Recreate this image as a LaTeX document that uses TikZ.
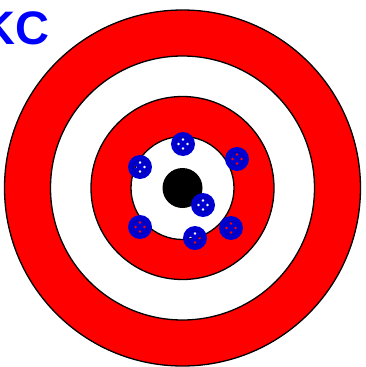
\documentclass[tikz,border=0pt]{standalone}
\usepackage{fontspec}
\setmainfont{Liberation Sans}
\usetikzlibrary{calc}
\definecolor{ringred}{RGB}{255,0,0}
\definecolor{holeblue}{RGB}{0,0,210}
\definecolor{holeedge}{RGB}{0,0,150}
\definecolor{textblue}{RGB}{0,0,255}
\tikzset{
  ring/.style={draw=black, line width=1.3pt},
  shot/.style={fill=holeblue, even odd rule},
  shotring/.style={draw=holeedge, line width=0.5pt},
}
\begin{document}
\begin{tikzpicture}[x=1pt,y=-1pt]
\useasboundingbox (0,0) rectangle (365,367);
\coordinate (c) at (182.5,188);
\fill[white] (0,0) rectangle (365,367);
\draw[ring, fill=ringred] (c) circle (178);
\draw[ring, fill=white] (c) circle (132);
\draw[ring, fill=ringred] (c) circle (91.5);
\draw[ring, fill=white] (c) circle (51.5);
\fill[black] (c) circle (20);
\node[anchor=base east, inner sep=0pt, text=textblue, font=\fontsize{47}{47}\selectfont\bfseries] (kc) at (50,44) {KC};
\foreach \n/\x/\y in {a/183/144, b/140/167, d/237/159, e/203/205, f/140/227, g/195/238, h/231/228}{
  \coordinate (\n) at (\x,\y);
  \fill[shot] (\n) circle (12)
    ($(\n)+(0,-4.5)$) circle (1.7)
    ($(\n)+(0,4.5)$) circle (1.7)
    ($(\n)+(-4.5,0)$) circle (1.7)
    ($(\n)+(4.5,0)$) circle (1.7);
  \draw[shotring] (\n) circle (7);
}
\end{tikzpicture}
\end{document}
